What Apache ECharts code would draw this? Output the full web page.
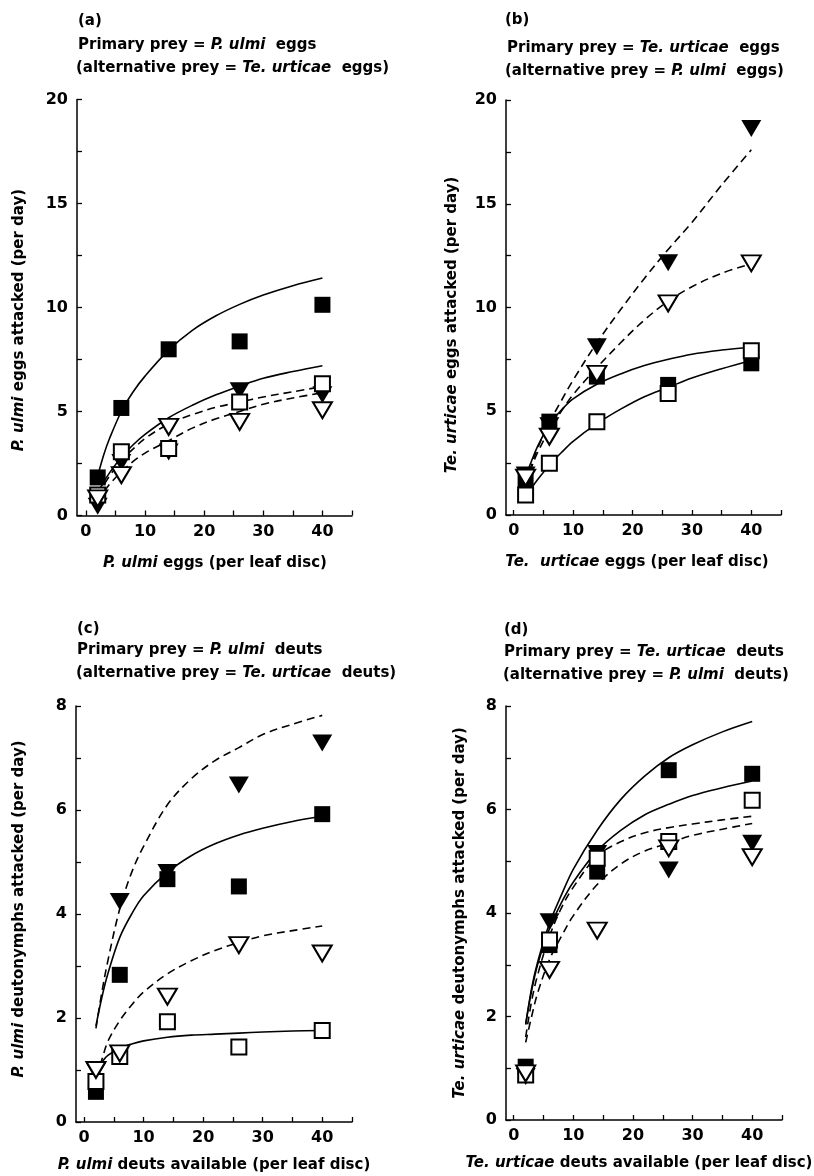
<!DOCTYPE html>
<html>
<head>
<meta charset="utf-8">
<script src="https://cdn.jsdelivr.net/npm/echarts@6/dist/echarts.min.js"></script>
<style>html,body{margin:0;padding:0;background:#fff}#c{width:814px;height:1176px}</style>
</head>
<body>
<div id="c"></div>
<script>
// ---------- data ----------
const densities = [2, 6, 14, 26, 40];           // prey offered (per leaf disc)
const curveX = [2, 3, 4, 6, 8, 10, 14, 18, 22, 26, 30, 35, 40];
const xTicks = [0, 5, 10, 15, 20, 25, 30, 35, 40, 45];
const xLabels = [0, 10, 20, 30, 40];
const yTicksEggs = [0, 2.5, 5, 7.5, 10, 12.5, 15, 17.5, 20];
const yLabelsEggs = [0, 5, 10, 15, 20];
const yTicksDeuts = [0, 1, 2, 3, 4, 5, 6, 7, 8];
const yLabelsDeuts = [0, 2, 4, 6, 8];

// panel (a)
const aFilledSq  = [1.83, 5.17, 7.99, 8.37, 10.13];
const aOpenSq    = [0.98, 3.06, 3.22, 5.46, 6.34];
const aFilledTri = [0.45, 2.55, 3.05, 6.0, 5.8];
const aOpenTri   = [0.82, 1.94, 4.26, 4.5, 5.06];
const aSolid1  = [1.9, 2.9, 3.7, 5.0, 5.95, 6.7, 7.95, 8.9, 9.6, 10.15, 10.6, 11.05, 11.42];
const aSolid2  = [1.05, 1.6, 2.05, 2.8, 3.4, 3.9, 4.7, 5.3, 5.8, 6.22, 6.6, 6.92, 7.2];
const aDashed1 = [1.0, 1.45, 1.9, 2.65, 3.2, 3.7, 4.4, 4.85, 5.2, 5.45, 5.7, 5.95, 6.2];
const aDashed2 = [0.65, 1.1, 1.5, 2.1, 2.6, 3.0, 3.6, 4.2, 4.65, 5.0, 5.35, 5.65, 5.9];

// panel (b)
const bFilledSq  = [1.69, 4.5, 6.67, 6.27, 7.31];
const bOpenSq    = [0.96, 2.49, 4.5, 5.86, 7.92];
const bFilledTri = [1.93, 4.3, 8.11, 12.16, 18.63];
const bOpenTri   = [1.8, 3.77, 6.8, 10.2, 12.13];
const bSolid1  = [1.85, 2.6, 3.3, 4.35, 5.05, 5.6, 6.3, 6.8, 7.2, 7.5, 7.75, 7.95, 8.1];
const bSolid2  = [0.85, 1.3, 1.7, 2.4, 3.0, 3.55, 4.4, 5.1, 5.7, 6.15, 6.6, 7.05, 7.45];
const bDashed1 = [1.5, 2.4, 3.2, 4.45, 5.5, 6.5, 8.3, 9.9, 11.4, 12.8, 14.1, 15.9, 17.6];
const bDashed2 = [1.5, 2.3, 3.0, 4.1, 5.0, 5.8, 7.1, 8.3, 9.4, 10.3, 11.0, 11.65, 12.1];

// panel (c)
const cFilledSq  = [0.58, 2.83, 4.67, 4.53, 5.92];
const cOpenSq    = [0.78, 1.26, 1.93, 1.44, 1.76];
const cFilledTri = [0.97, 4.24, 4.8, 6.48, 7.29];
const cOpenTri   = [1.0, 1.32, 2.41, 3.4, 3.24];
const cSolid1  = [1.85, 2.4, 2.85, 3.55, 4.0, 4.35, 4.8, 5.12, 5.35, 5.52, 5.65, 5.78, 5.88];
const cSolid2  = [1.0, 1.15, 1.28, 1.42, 1.5, 1.56, 1.63, 1.67, 1.69, 1.71, 1.73, 1.75, 1.76];
const cDashed1 = [1.8, 2.5, 3.1, 4.1, 4.8, 5.3, 6.1, 6.6, 6.95, 7.2, 7.45, 7.65, 7.82];
const cDashed2 = [0.85, 1.2, 1.55, 1.95, 2.25, 2.5, 2.85, 3.1, 3.3, 3.45, 3.58, 3.68, 3.77];

// panel (d)
const dFilledSq  = [1.03, 3.38, 4.80, 6.76, 6.69];
const dOpenSq    = [0.87, 3.48, 5.06, 5.38, 6.18];
const dFilledTri = [0.84, 3.83, 5.15, 4.83, 5.35];
const dOpenTri   = [0.9, 2.9, 3.66, 5.25, 5.08];
const dSolid1  = [1.85, 2.55, 3.05, 3.8, 4.35, 4.85, 5.6, 6.2, 6.65, 7.0, 7.25, 7.5, 7.7];
const dSolid2  = [1.85, 2.5, 3.0, 3.7, 4.2, 4.6, 5.2, 5.6, 5.9, 6.1, 6.27, 6.42, 6.55];
const dDashed1 = [1.6, 2.3, 2.8, 3.55, 4.1, 4.5, 5.1, 5.38, 5.55, 5.65, 5.72, 5.8, 5.87];
const dDashed2 = [1.5, 2.0, 2.45, 3.1, 3.55, 3.95, 4.55, 4.95, 5.2, 5.35, 5.5, 5.62, 5.73];

// ---------- layout ----------
const FONT = '"DejaVu Sans", "Liberation Sans", sans-serif';
const grids = [
  {left: 77,  top: 99.5, width: 275, height: 416, xmin: -1.5,  ymax: 20},
  {left: 506, top: 100,  width: 275, height: 415, xmin: -1.3,  ymax: 20},
  {left: 76,  top: 706,  width: 276, height: 416, xmin: -1.35, ymax: 8},
  {left: 506, top: 706,  width: 276, height: 414, xmin: -1.3,  ymax: 8}
];
const panels = [
  {fs: aFilledSq, os: aOpenSq, ft: aFilledTri, ot: aOpenTri, s1: aSolid1, s2: aSolid2, d1: aDashed1, d2: aDashed2},
  {fs: bFilledSq, os: bOpenSq, ft: bFilledTri, ot: bOpenTri, s1: bSolid1, s2: bSolid2, d1: bDashed1, d2: bDashed2},
  {fs: cFilledSq, os: cOpenSq, ft: cFilledTri, ot: cOpenTri, s1: cSolid1, s2: cSolid2, d1: cDashed1, d2: cDashed2},
  {fs: dFilledSq, os: dOpenSq, ft: dFilledTri, ot: dOpenTri, s1: dSolid1, s2: dSolid2, d1: dDashed1, d2: dDashed2}
];

const lbl = {fontFamily: FONT, fontWeight: 'bold', fontSize: 16, color: '#000'};
const xAxes = grids.map((g, i) => ({
  type: 'value', gridIndex: i, min: g.xmin, max: 45,
  axisLine: {show: true, onZero: false, lineStyle: {color: '#000', width: 1.5}},
  axisTick: {show: true, inside: true, length: 5, customValues: xTicks, lineStyle: {color: '#000', width: 1.3}},
  axisLabel: Object.assign({customValues: xLabels, margin: 8}, lbl),
  splitLine: {show: false}
}));
const yAxes = grids.map((g, i) => ({
  type: 'value', gridIndex: i, min: 0, max: g.ymax,
  axisLine: {show: true, onZero: false, lineStyle: {color: '#000', width: 1.5}},
  axisTick: {show: true, inside: true, length: 5, customValues: g.ymax === 20 ? yTicksEggs : yTicksDeuts, lineStyle: {color: '#000', width: 1.3}},
  axisLabel: Object.assign({customValues: g.ymax === 20 ? yLabelsEggs : yLabelsDeuts, margin: 9}, lbl),
  splitLine: {show: false}
}));

const TRI = 'path://M0,0L20,0L10,17Z';
function pts(arr) { return densities.map((x, k) => [x, arr[k]]); }
function cpts(arr) { return curveX.map((x, k) => [x, arr[k]]); }
const series = [];
panels.forEach((p, i) => {
  const line = (arr, dashed) => ({
    type: 'line', xAxisIndex: i, yAxisIndex: i, data: cpts(arr), smooth: 0.35,
    symbol: 'none', silent: true, z: 2,
    lineStyle: {color: '#000', width: 1.6, type: dashed ? [8, 5] : 'solid'}
  });
  series.push(line(p.s1, false), line(p.s2, false), line(p.d1, true), line(p.d2, true));
  const sc = (arr, symbol, size, filled) => ({
    type: 'scatter', xAxisIndex: i, yAxisIndex: i, data: pts(arr), symbol: symbol, symbolSize: size, z: 3,
    itemStyle: filled ? {color: '#000', opacity: 1} : {color: '#fff', borderColor: '#000', borderWidth: 2, opacity: 1}
  });
  series.push(sc(p.fs, 'rect', 16, true));
  series.push(sc(p.ft, TRI, [20, 17], true));
  series.push(sc(p.os, 'rect', 15, false));
  series.push(sc(p.ot, TRI, [19, 16], false));
});

// ---------- texts ----------
const rich = {
  b: {fontFamily: FONT, fontWeight: 'bold', fontSize: 15, fill: '#000'},
  i: {fontFamily: FONT, fontWeight: 'bold', fontStyle: 'italic', fontSize: 15, fill: '#000'}
};
function t(x, y, text, rot, align) {
  return {
    type: 'text', x: x, y: y, rotation: rot || 0, silent: true,
    style: {text: text, rich: rich, align: align || 'left', verticalAlign: 'middle', fill: '#000',
            font: 'bold 15px ' + FONT}
  };
}
const R = Math.PI / 2;
const texts = [
  t(78, 21, '{b|(a)}'),
  t(78, 45, '{b|Primary prey = }{i|P. ulmi}{b|  eggs}'),
  t(76, 68, '{b|(alternative prey = }{i|Te. urticae}{b|  eggs)}'),
  t(505, 20, '{b|(b)}'),
  t(507, 48, '{b|Primary prey = }{i|Te. urticae}{b|  eggs}'),
  t(505, 71, '{b|(alternative prey = }{i|P. ulmi}{b|  eggs)}'),
  t(77, 629, '{b|(c)}'),
  t(77, 650, '{b|Primary prey = }{i|P. ulmi}{b|  deuts}'),
  t(76, 673, '{b|(alternative prey = }{i|Te. urticae}{b|  deuts)}'),
  t(504, 630, '{b|(d)}'),
  t(504, 652, '{b|Primary prey = }{i|Te. urticae}{b|  deuts}'),
  t(503, 675, '{b|(alternative prey = }{i|P. ulmi}{b|  deuts)}'),
  // x-axis names
  t(215, 563, '{i|P. ulmi}{b| eggs (per leaf disc)}', 0, 'center'),
  t(637, 562, '{i|Te.  urticae}{b| eggs (per leaf disc)}', 0, 'center'),
  t(214, 1165, '{i|P. ulmi}{b| deuts available (per leaf disc)}', 0, 'center'),
  t(639, 1163, '{i|Te. urticae}{b| deuts available (per leaf disc)}', 0, 'center'),
  // y-axis names
  t(19, 320, '{i|P. ulmi}{b| eggs attacked (per day)}', R, 'center'),
  t(452, 325, '{i|Te. urticae}{b| eggs attacked (per day)}', R, 'center'),
  t(19, 909, '{i|P. ulmi}{b| deutonymphs attacked (per day)}', R, 'center'),
  t(460, 913, '{i|Te. urticae}{b| deutonymphs attacked (per day)}', R, 'center')
];

const chart = echarts.init(document.getElementById('c'), null, {renderer: 'canvas'});
chart.setOption({
  backgroundColor: '#fff',
  animation: false,
  grid: grids.map(g => ({left: g.left, top: g.top, width: g.width, height: g.height, containLabel: false, outerBoundsMode: 'none'})),
  xAxis: xAxes,
  yAxis: yAxes,
  series: series,
  graphic: texts
});
</script>
</body>
</html>
